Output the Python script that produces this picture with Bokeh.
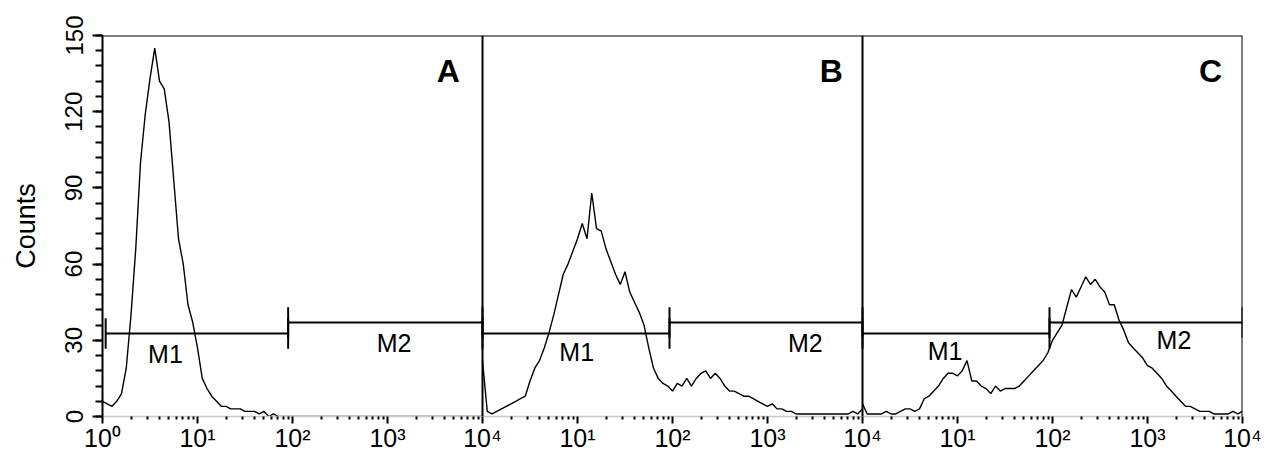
import numpy as np
from bokeh.plotting import figure
from bokeh.models import Range1d, LogScale, FixedTicker, Span
from bokeh.core.properties import value
from bokeh.embed import file_html
from bokeh.resources import INLINE

# ---------------- data ----------------
panels = ["A", "B", "C"]
# instrument channel grid: log10 fluorescence, 0..4 in 0.05 decade steps
log_channel = np.round(np.arange(81) * 0.05, 2)

counts_a = [6, 5, 4, 6, 9, 19, 40, 66, 100, 119,
            133, 145, 132, 129, 116, 93, 70, 60, 44, 37,
            27, 15, 11, 8, 6, 4, 4, 3, 3, 3,
            2, 2, 2, 1, 2, 0, 1, 0, 0, 0,
            0, 0, 0, 0, 0, 0, 0, 0, 0, 0,
            0, 0, 0, 0, 0, 0, 0, 0, 0, 0,
            0, 0, 0, 0, 0, 0, 0, 0, 0, 0,
            0, 0, 0, 0, 0, 0, 0, 0, 0, 0,
            0]
counts_b = [22, 2, 1, 2, 3, 4, 5, 6, 7, 8,
            14, 19, 22, 27, 33, 40, 48, 56, 60, 65,
            70, 76, 70, 88, 74, 73, 66, 61, 56, 52,
            57, 49, 45, 41, 36, 27, 19, 15, 13, 12,
            10, 13, 12, 15, 12, 15, 17, 18, 15, 17,
            15, 12, 10, 10, 9, 8, 8, 7, 6, 5,
            4, 5, 3, 3, 2, 2, 1, 1, 1, 1,
            1, 1, 1, 1, 1, 1, 1, 1, 2, 1,
            3]
counts_c = [5, 1, 1, 1, 1, 2, 1, 1, 2, 3,
            3, 2, 3, 7, 8, 10, 12, 15, 17, 17,
            16, 18, 22, 14, 14, 12, 11, 9, 12, 10,
            11, 11, 11, 12, 14, 16, 18, 20, 22, 25,
            30, 33, 36, 43, 50, 47, 51, 55, 52, 54,
            51, 49, 44, 44, 38, 34, 29, 27, 25, 23,
            20, 19, 17, 15, 12, 10, 8, 6, 4, 4,
            3, 2, 2, 2, 1, 1, 1, 1, 2, 1,
            2]
counts = [counts_a, counts_b, counts_c]

tick_values = [1, 10, 100, 1000, 10000]
tick_labels = ["10\u2070", "10\u00b9", "10\u00b2", "10\u00b3", "10\u2074"]
y_ticks = [0, 30, 60, 90, 120, 150]

# marker regions (fluorescence bounds)
m1_bounds = [(1.08, 90), (1, 93), (1, 93)]
m2_bounds = [(90, 10000), (93, 10000), (93, 10000)]
m1_level = 32.7
m2_level = 37.0

# ---------------- style ----------------
FONT = "Liberation Sans"
range_names = ["default", "B", "C"]

p = figure(width=1267, height=454, x_axis_type="log",
           x_range=Range1d(1, 1e12), y_range=Range1d(0, 150),
           output_backend="svg", toolbar_location=None,
           min_border_left=102, min_border_right=25,
           min_border_top=35, min_border_bottom=10)
p.extra_x_ranges = {"B": Range1d(1e-4, 1e8), "C": Range1d(1e-8, 1e4)}
p.extra_x_scales = {"B": LogScale(), "C": LogScale()}
p.outline_line_color = None
p.grid.visible = False
p.background_fill_color = "white"

# x axis: one shared axis, three panels of four decades each
majors, minors, overrides = [], [], {}
for i in range(3):
    off = 10.0 ** (4 * i)
    for j, (t, lab) in enumerate(zip(tick_values, tick_labels)):
        v = float(t * off)
        if j == 0 and i > 0:
            continue  # panel boundary keeps the previous panel's 10^4
        overrides[v] = lab
        majors.append(v)
    for t in tick_values[:-1]:
        for k in range(2, 10):
            minors.append(float(t * k * off))
xa = p.xaxis[0]
xa.ticker = FixedTicker(ticks=majors, minor_ticks=minors)
xa.major_label_overrides = overrides
xa.axis_line_color = "#c8c8c8"
xa.axis_line_width = 1.5
xa.major_tick_out = 7
xa.major_tick_in = 0
xa.minor_tick_out = 3
xa.minor_tick_in = 0
xa.major_tick_line_width = 2
xa.minor_tick_line_width = 2
xa.major_label_text_font = FONT
xa.major_label_text_font_size = "25px"
xa.major_label_text_color = "black"
xa.major_label_standoff = 0

ya = p.yaxis[0]
ya.ticker = FixedTicker(ticks=y_ticks, minor_ticks=list(range(0, 151, 6)))
ya.major_label_orientation = "vertical"
ya.major_label_text_font = FONT
ya.major_label_text_font_size = "24px"
ya.major_label_text_color = "black"
ya.major_label_standoff = 10
ya.axis_label = "Counts"
ya.axis_label_text_font = FONT
ya.axis_label_text_font_size = "27px"
ya.axis_label_text_font_style = "normal"
ya.axis_label_text_color = "black"
ya.axis_label_standoff = 22
ya.axis_line_width = 2
ya.major_tick_out = 10
ya.major_tick_in = 0
ya.minor_tick_out = 7
ya.minor_tick_in = 0
ya.major_tick_line_width = 2
ya.minor_tick_line_width = 2

# histograms
for name, c in zip(range_names, counts):
    p.line(x=10.0 ** log_channel, y=c, x_range_name=name,
           line_color="black", line_width=1.4)

# markers: horizontal bars with end ticks
for name, (a0, a1), (b0, b1) in zip(range_names, m1_bounds, m2_bounds):
    x0 = [a0, a0, a1, b0, b0, b1]
    x1 = [a1, a0, a1, b1, b0, b1]
    y0 = [m1_level, m1_level - 6, m1_level - 6, m2_level, m2_level - 6, m2_level - 6]
    y1 = [m1_level, m1_level + 6, m1_level + 6, m2_level, m2_level + 6, m2_level + 6]
    p.segment(x0=x0, y0=y0, x1=x1, y1=y1,
              x_range_name=name, line_color="black", line_width=2)

# marker labels and panel letters
m1_label_x = [4.6, 9.8, 7.4]
m1_label_y = [24.8, 25.2, 25.6]
m2_label_x = [1175, 2500, 1900]
m2_label_y = [29.1, 29.1, 30.3]
letter_x = [4370, 4700, 4600]
letter_y = 136.2
for i, name in enumerate(range_names):
    p.text(x=[m1_label_x[i], m2_label_x[i]], y=[m1_label_y[i], m2_label_y[i]],
           text=["M1", "M2"], x_range_name=name,
           text_font=value(FONT), text_font_size="25px",
           text_align="center", text_baseline="middle", text_color="black")
    p.text(x=[letter_x[i]], y=[letter_y], text=[panels[i]], x_range_name=name,
           text_font=value(FONT), text_font_size="32px", text_font_style="bold",
           text_align="center", text_baseline="middle", text_color="black")

# frame: top line, panel dividers and right edge
p.add_layout(Span(location=150, dimension="width", line_color="black", line_width=2))
for loc in [1e4, 1e8, 1e12]:
    p.add_layout(Span(location=loc, dimension="height", line_color="black", line_width=2))

open("out.html", "w").write(file_html(p, INLINE))
